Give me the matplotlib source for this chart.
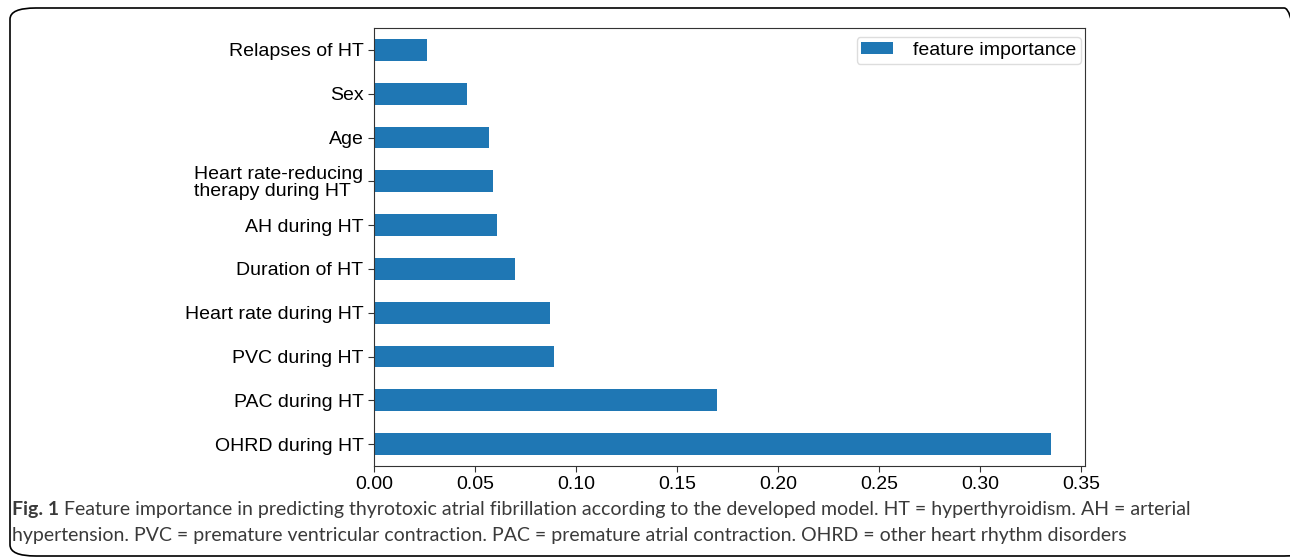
import matplotlib
matplotlib.use("Agg")
import matplotlib.pyplot as plt
from matplotlib.patches import FancyBboxPatch

features = ["OHRD during HT", "PAC during HT", "PVC during HT", "Heart rate during HT",
            "Duration of HT", "AH during HT", "Heart rate-reducing\ntherapy during HT",
            "Age", "Sex", "Relapses of HT"]
importance = [0.335, 0.170, 0.089, 0.087, 0.070, 0.061, 0.059, 0.057, 0.046, 0.026]
xticks = [0.00, 0.05, 0.10, 0.15, 0.20, 0.25, 0.30, 0.35]

caption_bold = "Fig. 1"
caption_1 = (" Feature importance in predicting thyrotoxic atrial fibrillation according to the "
             "developed model. HT = hyperthyroidism. AH = arterial")
caption_2 = ("hypertension. PVC = premature ventricular contraction. PAC = premature atrial "
             "contraction. OHRD = other heart rhythm disorders")

plt.rcParams['font.family'] = ['Liberation Sans', 'DejaVu Sans']

W, H = 1290, 559
fig = plt.figure(figsize=(W / 100, H / 100), dpi=100)
ax = fig.add_axes([374 / W, 1 - 466 / H, (1085 - 374) / W, (466 - 28) / H])

pos = range(len(features))
ax.barh(pos, importance, height=0.5, color="#1f77b4", label="feature importance")
ax.set_ylim(-0.5, len(features) - 0.5)
ax.set_xlim(0, 0.352)
ax.set_yticks(list(pos))
ax.set_yticklabels(features, fontsize=14, linespacing=1.0)
for lab in ax.get_yticklabels():
    lab.set_multialignment("left")
ax.set_xticks(xticks)
ax.set_xticklabels([f"{t:.2f}" for t in xticks], fontsize=14)
for s in ax.spines.values():
    s.set_color("#333333")
ax.tick_params(colors="#333333", labelcolor="black", length=4)
ax.legend(loc="upper right", bbox_to_anchor=(1081 / W, 1 - 37 / H),
          bbox_transform=fig.transFigure, borderaxespad=0,
          fontsize=14, handlelength=1.65, handleheight=0.5, handletextpad=1.0,
          borderpad=0.25, framealpha=1, edgecolor="#dddddd", fancybox=True)

# rounded frame around the figure and caption
frame = FancyBboxPatch((10 / W, 3 / H), 1300 / W, 548 / H,
                       boxstyle="round,pad=0,rounding_size=0.02",
                       transform=fig.transFigure, fill=False,
                       edgecolor="black", linewidth=1.2, clip_on=False)
fig.patches.append(frame)

cap_kw = dict(fontsize=14, color="#3a3a3a", family=['Lato', 'DejaVu Sans'])
t0 = fig.text(12 / W, 1 - 510 / H, caption_bold, fontweight="bold", va="center", **cap_kw)
fig.canvas.draw()
bb = t0.get_window_extent()
fig.text(bb.x1 / W, 1 - 510 / H, caption_1, va="center", **cap_kw)
fig.text(12 / W, 1 - 535 / H, caption_2, va="center", **cap_kw)

fig.savefig("out.png", dpi=100)
